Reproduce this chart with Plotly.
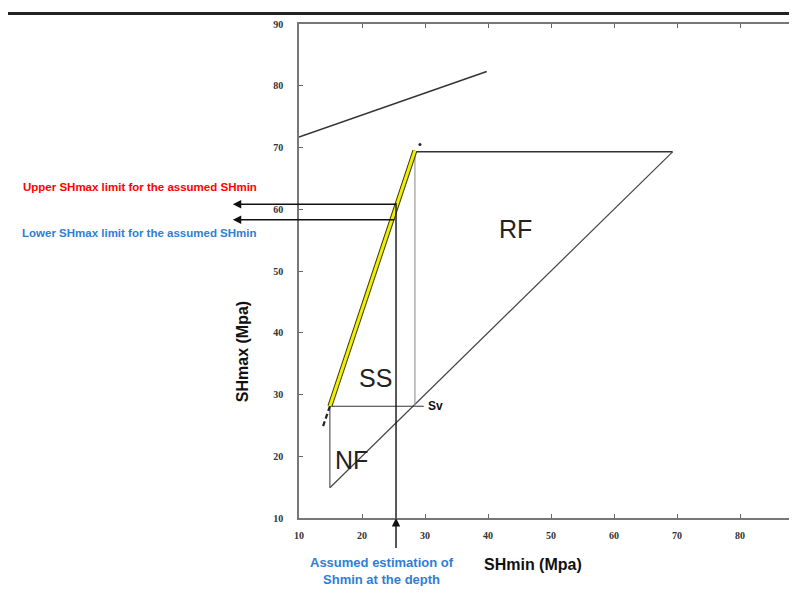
import plotly.graph_objects as go

# ---- data (MPa) ----
# upper reference line
top_x = [10, 39.8]
top_y = [71.7, 82.3]

# stress polygon vertices
poly_bottom = [14.9, 14.9]
poly_nf_top = [14.9, 28.1]
sv_point = [28.1, 28.1]
sv_line_end_x = 29.8
poly_top_left = [28.4, 69.3]
poly_top_right = [69.3, 69.3]

# yellow limit line (SS / RF boundary)
yellow_x = [14.9, 28.4]
yellow_y = [28.1, 69.5]
dash_ext_x = [14.9, 13.8]
dash_ext_y = [28.1, 24.8]
dot_pt = [29.2, 70.5]

# assumed Shmin estimate and SHmax limits
shmin_est = 25.4
upper_limit = 60.8
lower_limit = 58.3
arrow_left_x = -0.5
arrow_tail_y = 4.9

x_ticks = [10, 20, 30, 40, 50, 60, 70, 80, 90]
y_ticks = [10, 20, 30, 40, 50, 60, 70, 80, 90]

fig = go.Figure()

def line(xs, ys, color="#333333", width=1.2, dash=None):
    fig.add_trace(go.Scatter(x=xs, y=ys, mode="lines",
                             line=dict(color=color, width=width, dash=dash),
                             hoverinfo="skip", showlegend=False))

line(top_x, top_y, "#333333", 1.5)
# diagonal SHmax = SHmin
line([poly_bottom[0], poly_top_right[0]], [poly_bottom[1], poly_top_right[1]], "#444444", 1.2)
# NF left vertical
line([poly_bottom[0], poly_nf_top[0]], [poly_bottom[1], poly_nf_top[1]], "#555555", 1.2)
# Sv horizontal
line([poly_nf_top[0], sv_line_end_x], [poly_nf_top[1], sv_point[1]], "#333333", 1.2)
# gray vertical at Sv
line([poly_top_left[0], poly_top_left[0]], [sv_point[1], poly_top_left[1]], "#999999", 1.2)
# top horizontal
line([poly_top_left[0], poly_top_right[0]], [poly_top_left[1], poly_top_right[1]], "#333333", 1.4)
# yellow line with dark border
line(yellow_x, yellow_y, "#3a3a00", 5)
line(yellow_x, yellow_y, "#f2f000", 3)
line(dash_ext_x, dash_ext_y, "#222222", 2.2, "5px,3px")
fig.add_trace(go.Scatter(x=[dot_pt[0]], y=[dot_pt[1]], mode="markers",
                         marker=dict(color="#222222", size=3),
                         hoverinfo="skip", showlegend=False))
# vertical estimate line
line([shmin_est, shmin_est], [10, upper_limit + 0.2], "#111111", 1.4)

# arrows
arrow = dict(xref="x", yref="y", axref="x", ayref="y", text="",
             showarrow=True, arrowhead=2, arrowsize=1.2, arrowwidth=1.4,
             arrowcolor="#111111")
fig.add_annotation(x=arrow_left_x, y=upper_limit, ax=25.6, ay=upper_limit, **arrow)
fig.add_annotation(x=arrow_left_x, y=lower_limit, ax=shmin_est, ay=lower_limit, **arrow)
fig.add_annotation(x=shmin_est, y=10, ax=shmin_est, ay=arrow_tail_y, **arrow)

# region labels
big = dict(family="Liberation Sans, Arial", size=25, color="#222222")
fig.add_annotation(x=44.3, y=56.8, text="RF", showarrow=False, font=big)
fig.add_annotation(x=22.1, y=32.6, text="SS", showarrow=False, font=big)
fig.add_annotation(x=18.4, y=19.4, text="NF", showarrow=False, font=big)
fig.add_annotation(x=30.1, y=28.1, text="<b>Sv</b>", showarrow=False, xanchor="left",
                   font=dict(family="Liberation Sans, Arial", size=12, color="#111111"))

# page has an 8px body margin: work in reference pixels, shifted by OFF
OFF = 8
W, H = 797 - 2 * OFF, 594 - 2 * OFF
L = 299 - OFF
R = 0
T = 23.5 - OFF
B = H - (518 - OFF)
pw = W - L - R
ph = H - T - B

def px(xp):
    return (xp - OFF - L) / pw

def py(yp):
    return (H - B - (yp - OFF)) / ph

def txt(xp, yp, text, size, color, angle=0):
    fig.add_annotation(xref="paper", yref="paper", x=px(xp), y=py(yp),
                       xanchor="center", yanchor="middle", text=text,
                       showarrow=False, textangle=angle,
                       font=dict(family="Liberation Sans, Arial", size=size, color=color))

txt(139.5, 187, "<b>Upper SHmax limit for the assumed SHmin</b>", 11.5, "#ff0000")
txt(139.5, 233, "<b>Lower SHmax limit for the assumed SHmin</b>", 11.5, "#2f7ed6")
txt(382, 571, "<b>Assumed estimation of<br>Shmin at the depth</b>", 13, "#2f7ed6")
txt(533, 565, "<b>SHmin (Mpa)</b>", 16, "#111111")
txt(242, 352, "<b>SHmax (Mpa)</b>", 16, "#111111", -90)

# top heavy rule
fig.add_shape(type="line", xref="paper", yref="paper",
              x0=px(7), x1=px(805), y0=py(13), y1=py(13),
              line=dict(color="#222222", width=3))

tickfont = dict(family="Liberation Serif, Times New Roman", size=10, color="#333333",
                weight="bold")
fig.update_xaxes(range=[10, 10 + pw / 6.3], tickvals=x_ticks,
                 ticks="inside", ticklen=4, tickcolor="#666666", tickwidth=1,
                 showline=True, linecolor="#777777", linewidth=1.5, mirror="ticks",
                 showgrid=False, zeroline=False, tickfont=tickfont,
                 ticklabelstandoff=7)
fig.update_yaxes(range=[10, 90], tickvals=y_ticks,
                 ticks="inside", ticklen=4, tickcolor="#666666", tickwidth=1,
                 showline=True, linecolor="#777777", linewidth=1.5, mirror=False,
                 showgrid=False, zeroline=False, tickfont=tickfont,
                 ticklabelstandoff=12)

fig.update_layout(width=W, height=H, margin=dict(l=L, r=R, t=T, b=B),
                  plot_bgcolor="white", paper_bgcolor="white", showlegend=False)

fig.write_html("out.html")
